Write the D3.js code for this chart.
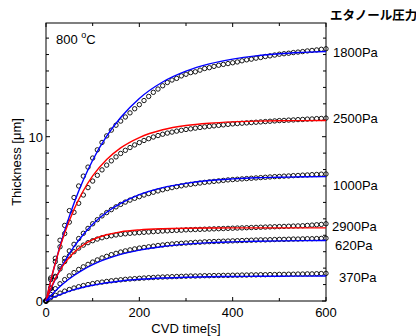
<!DOCTYPE html>
<html>
<head>
<meta charset="utf-8">
<style>
  body { margin: 0; background: #fff; }
  text { font-family: "Liberation Sans", Arial, sans-serif; }
</style>
</head>
<body>
<div id="graph"></div>
<script src="https://cdnjs.cloudflare.com/ajax/libs/d3/7.8.5/d3.min.js"></script>
<script>
// measured points, every 10 s
var times = [0,10,20,30,40,50,60,70,80,90,100,110,120,130,140,150,160,170,180,190,200,
  210,220,230,240,250,260,270,280,290,300,310,320,330,340,350,360,370,380,390,400,
  410,420,430,440,450,460,470,480,490,500,510,520,530,540,550,560,570,580,590,600];

var pa1800 = [0,1.4,2.6,3.7,4.6,5.5,6.3,7.0,7.6,8.15,8.7,9.2,9.65,10.05,10.4,10.7,10.95,11.2,11.45,11.7,11.95,
  12.2,12.45,12.7,12.9,13.1,13.3,13.45,13.55,13.7,13.8,13.9,13.95,14.05,14.15,14.2,14.28,14.35,14.4,14.45,14.5,
  14.55,14.62,14.68,14.72,14.78,14.82,14.88,14.92,14.97,15.02,15.05,15.08,15.12,15.15,15.18,15.22,15.25,15.28,15.32,15.35];
var pa2500 = [0,1.3,2.4,3.3,4.1,4.8,5.4,5.95,6.45,6.9,7.3,7.65,7.98,8.27,8.53,8.77,8.98,9.17,9.34,9.5,9.64,
  9.77,9.88,9.98,10.07,10.15,10.22,10.28,10.34,10.39,10.44,10.48,10.52,10.56,10.6,10.63,10.66,10.69,10.72,10.75,10.78,
  10.8,10.82,10.84,10.86,10.88,10.9,10.92,10.94,10.96,10.98,10.99,11.01,11.02,11.04,11.05,11.07,11.08,11.1,11.11,11.13];
var pa1000 = [0,0.8,1.5,2.1,2.6,3.05,3.45,3.8,4.12,4.42,4.7,4.95,5.18,5.38,5.56,5.73,5.88,6.02,6.14,6.25,6.35,
  6.45,6.54,6.62,6.7,6.77,6.84,6.9,6.96,7.01,7.06,7.1,7.14,7.18,7.22,7.25,7.28,7.31,7.34,7.37,7.39,
  7.41,7.43,7.45,7.47,7.49,7.51,7.53,7.55,7.57,7.58,7.6,7.61,7.63,7.64,7.66,7.67,7.69,7.7,7.72,7.73];
var pa2900 = [0,0.75,1.45,1.95,2.4,2.75,3.0,3.22,3.4,3.55,3.67,3.77,3.85,3.92,3.97,4.02,4.06,4.09,4.12,4.14,4.16,
  4.18,4.2,4.22,4.24,4.26,4.27,4.29,4.3,4.31,4.33,4.34,4.35,4.36,4.37,4.38,4.39,4.4,4.41,4.42,4.43,
  4.44,4.45,4.46,4.47,4.48,4.49,4.5,4.51,4.52,4.53,4.54,4.55,4.56,4.57,4.58,4.6,4.62,4.64,4.66,4.7];
var pa620 = [0,0.4,0.75,1.05,1.3,1.53,1.73,1.92,2.08,2.23,2.37,2.5,2.62,2.72,2.82,2.9,2.98,3.05,3.11,3.17,3.22,
  3.26,3.3,3.34,3.38,3.41,3.44,3.47,3.49,3.51,3.53,3.55,3.57,3.58,3.6,3.61,3.62,3.63,3.64,3.65,3.66,
  3.67,3.68,3.69,3.7,3.71,3.72,3.72,3.73,3.74,3.75,3.75,3.76,3.77,3.77,3.78,3.79,3.79,3.8,3.81,3.82];
var pa370 = [0,0.2,0.35,0.48,0.6,0.7,0.79,0.87,0.94,1.0,1.06,1.11,1.15,1.19,1.23,1.26,1.29,1.32,1.34,1.36,1.38,
  1.4,1.42,1.43,1.45,1.46,1.47,1.48,1.49,1.5,1.51,1.52,1.52,1.53,1.54,1.54,1.55,1.55,1.56,1.56,1.57,
  1.57,1.58,1.58,1.59,1.59,1.6,1.6,1.61,1.61,1.62,1.62,1.63,1.63,1.64,1.64,1.65,1.65,1.66,1.67,1.68];

// fitted curves
var fitTimes = [0,10,20,30,40,60,80,100,130,160,200,250,300,350,400,450,500,550,600];
var fit1800 = [0,1.21,2.31,3.34,4.28,5.95,7.36,8.57,10.03,11.17,12.33,13.33,13.99,14.43,14.72,14.92,15.05,15.13,15.19];
var fit2500 = [0,1.22,2.31,3.27,4.13,5.57,6.71,7.61,8.61,9.32,9.95,10.42,10.68,10.82,10.9,10.945,10.97,10.98,10.99];
var fit1000 = [0,0.69,1.32,1.89,2.41,3.31,4.05,4.67,5.4,5.94,6.47,6.9,7.16,7.33,7.43,7.5,7.53,7.56,7.57];
var fit2900 = [0,0.74,1.36,1.87,2.3,2.95,3.41,3.73,4.03,4.21,4.33,4.4,4.43,4.44,4.45,4.45,4.45,4.45,4.45];
var fit620 = [0,0.32,0.61,0.88,1.13,1.55,1.91,2.21,2.56,2.84,3.1,3.32,3.46,3.55,3.6,3.64,3.66,3.675,3.68];
var fit370 = [0,0.145,0.275,0.39,0.5,0.69,0.84,0.96,1.11,1.22,1.32,1.4,1.45,1.48,1.49,1.505,1.51,1.515,1.52];

var seriesNames = ["1800Pa","2500Pa","1000Pa","2900Pa","620Pa","370Pa"];
var seriesData = [pa1800, pa2500, pa1000, pa2900, pa620, pa370];
var fitData = [fit1800, fit2500, fit1000, fit2900, fit620, fit370];
var fitColors = ["#0000ff","#ff0000","#0000ff","#ff0000","#0000ff","#0000ff"];
var labelPos = [[333,57],[333,123],[333,190],[332,231],[335,250],[339,282]];

var xTicks = [0,200,400,600];
var yTicks = [0,10];

var W = 416, H = 336;
var x = d3.scaleLinear().domain([0,600]).range([46,326]);
var y = d3.scaleLinear().domain([0,16.92]).range([301,23]);

var svg = d3.select("#graph").append("svg")
    .attr("width", W).attr("height", H);

// frame
svg.append("rect")
    .attr("x", 46).attr("y", 23).attr("width", 280).attr("height", 278)
    .attr("fill", "none").attr("stroke", "#000").attr("stroke-width", 1);

// inward ticks on all sides
var xt = d3.range(0, 601, 100);
var yt = d3.range(0, 17, 1);
xt.forEach(function(t) {
    var len = (t % 200 == 0) ? 4 : 3;
    svg.append("line").attr("x1", x(t)).attr("x2", x(t)).attr("y1", 301).attr("y2", 301 - len).attr("stroke", "#000");
    svg.append("line").attr("x1", x(t)).attr("x2", x(t)).attr("y1", 23).attr("y2", 23 + len).attr("stroke", "#000");
});
yt.forEach(function(v) {
    var len = (v % 10 == 0) ? 4 : 3;
    svg.append("line").attr("x1", 46).attr("x2", 46 + len).attr("y1", y(v)).attr("y2", y(v)).attr("stroke", "#000");
    svg.append("line").attr("x1", 326).attr("x2", 326 - len).attr("y1", y(v)).attr("y2", y(v)).attr("stroke", "#000");
});

svg.selectAll(".xlab").data(xTicks).enter().append("text")
    .attr("x", function(d) { return x(d); }).attr("y", 317)
    .attr("text-anchor", "middle").attr("font-size", 13).text(function(d) { return d; });
svg.selectAll(".ylab").data(yTicks).enter().append("text")
    .attr("x", 43).attr("y", function(d) { return y(d) + 5; })
    .attr("text-anchor", "end").attr("font-size", 13).text(function(d) { return d; });

svg.append("text").attr("x", 186).attr("y", 333).attr("text-anchor", "middle")
    .attr("font-size", 13).text("CVD time[s]");
svg.append("text").attr("transform", "translate(21,162) rotate(-90)")
    .attr("text-anchor", "middle").attr("font-size", 13).text("Thickness [\u03bcm]");

var t800 = svg.append("text").attr("x", 56).attr("y", 44).attr("font-size", 13);
t800.append("tspan").text("800 ");
t800.append("tspan").attr("font-size", 9).attr("dy", -6).text("o");
t800.append("tspan").attr("dy", 6).text("C");

// data circles
var line = d3.line()
    .x(function(d) { return x(d[0]); })
    .y(function(d) { return y(d[1]); })
    .curve(d3.curveMonotoneX);

seriesData.forEach(function(vals, i) {
    svg.append("g").selectAll("circle")
        .data(times.map(function(t, j) { return [t, vals[j]]; }))
        .enter().append("circle")
        .attr("cx", function(d) { return x(d[0]); })
        .attr("cy", function(d) { return y(d[1]); })
        .attr("r", 2.2)
        .attr("fill", "none").attr("stroke", "#000").attr("stroke-width", 0.9);
});

fitData.forEach(function(vals, i) {
    svg.append("path")
        .datum(fitTimes.map(function(t, j) { return [t, vals[j]]; }))
        .attr("d", line)
        .attr("fill", "none").attr("stroke", fitColors[i]).attr("stroke-width", 1.4);
});

seriesNames.forEach(function(n, i) {
    svg.append("text").attr("x", labelPos[i][0]).attr("y", labelPos[i][1])
        .attr("font-size", 13).text(n);
});

svg.append("text").attr("x", 330).attr("y", 20).attr("font-size", 12.5)
    .attr("font-weight", "bold")
    .style("font-family", "'Noto Sans CJK JP', sans-serif")
    .text("エタノール圧力");
</script>
</body>
</html>
